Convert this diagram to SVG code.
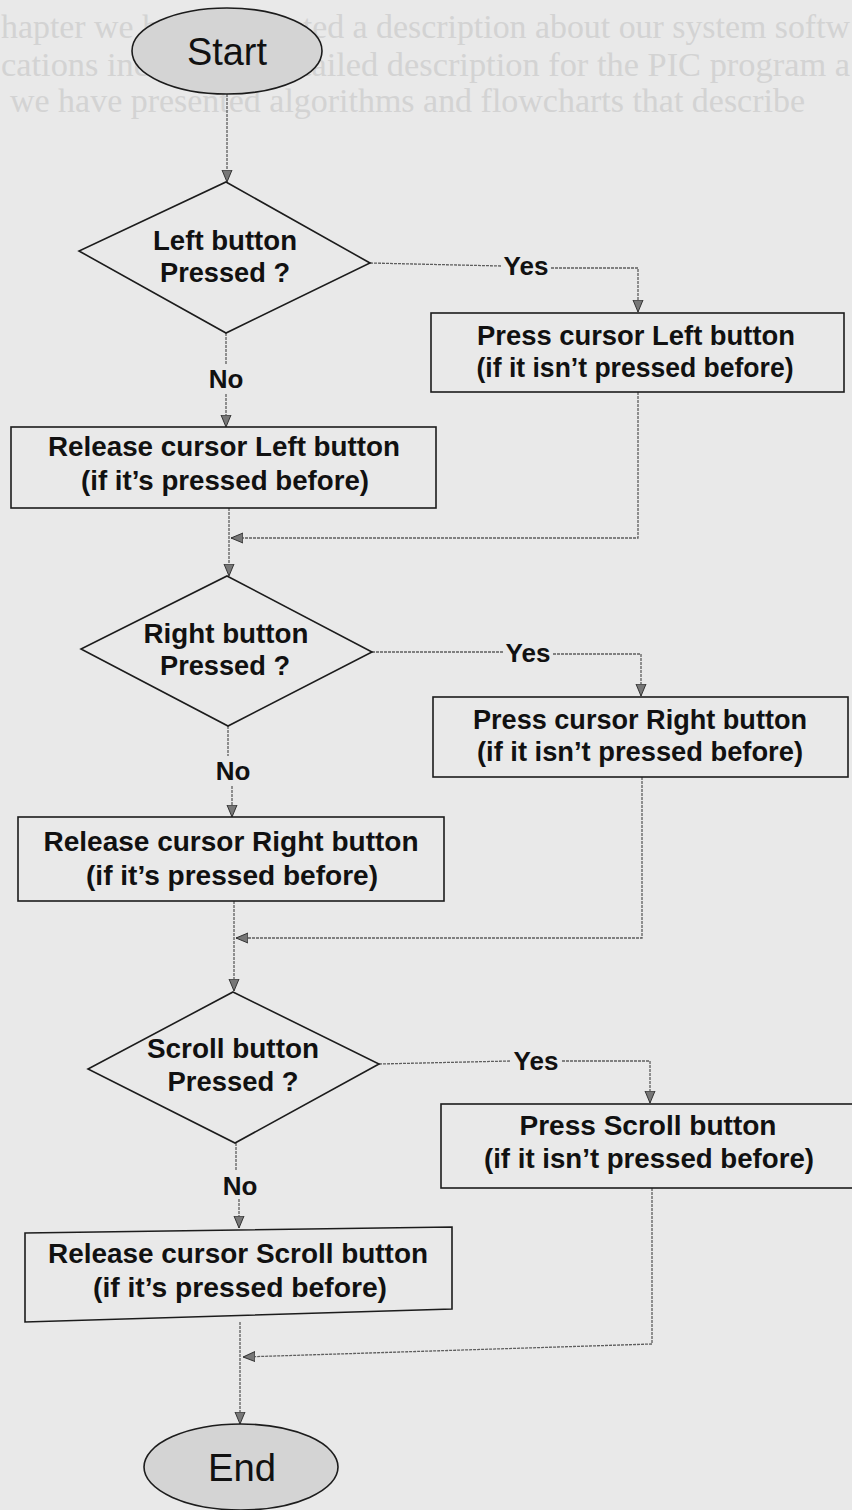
<svg xmlns="http://www.w3.org/2000/svg" width="852" height="1510" viewBox="0 0 852 1510">
<defs>
<marker id="arr" markerWidth="12" markerHeight="16" refX="12" refY="5" orient="auto" markerUnits="userSpaceOnUse" viewBox="0 0 12 10">
<path d="M0,0 L12,5 L0,10 Z" fill="#777" stroke="#333" stroke-width="1"/>
</marker>
<style>
.bg{fill:#e9e9e9}
.bleed{font-family:"Liberation Serif",serif;font-size:33px;fill:#d3d3d3}
.box{fill:none;stroke:#1c1c1c;stroke-width:1.6}
.term{fill:#d4d4d4;stroke:#1c1c1c;stroke-width:1.6}
.lbl{font-family:"Liberation Sans",Arial,sans-serif;font-weight:bold;font-size:27px;fill:#111;text-anchor:middle}
.yn{font-family:"Liberation Sans",Arial,sans-serif;font-weight:bold;font-size:26px;fill:#111;text-anchor:middle}
.tt{font-family:"Liberation Sans",Arial,sans-serif;font-size:38px;fill:#111;text-anchor:middle}
.con{fill:none;stroke:#5e5e5e;stroke-width:1.3;stroke-dasharray:3 1}
.ca{fill:none;stroke:#5e5e5e;stroke-width:1.3;stroke-dasharray:3 1;marker-end:url(#arr)}
</style>
</defs>
<rect class="bg" x="0" y="0" width="852" height="1510"/>
<g id="bleed-through">
<text class="bleed" x="1" y="38" textLength="849" lengthAdjust="spacingAndGlyphs">hapter we have presented a description about our system softw</text>
<text class="bleed" x="1" y="76" textLength="849" lengthAdjust="spacingAndGlyphs">cations including a detailed description for the PIC program a</text>
<text class="bleed" x="10" y="112" textLength="795" lengthAdjust="spacingAndGlyphs">we have presented algorithms and flowcharts that describe</text>
</g>
<g id="connectors">
<path class="ca" d="M227,94 V182"/>
<path class="con" d="M370,263 L501,266"/>
<path class="ca" d="M551,268 H638 V312"/>
<path class="con" d="M226,333 V364"/>
<path class="ca" d="M226,394 V427"/>
<path class="ca" d="M229,508 V576"/>
<path class="ca" d="M638,392 V538 H231"/>
<path class="con" d="M372,652 H503"/>
<path class="ca" d="M553,654 H641 V696"/>
<path class="con" d="M228,726 V756"/>
<path class="ca" d="M232,786 V817"/>
<path class="ca" d="M234,901 V991"/>
<path class="ca" d="M642,777 V938 H236"/>
<path class="con" d="M379,1064 L510,1061"/>
<path class="ca" d="M562,1061 H650 V1103"/>
<path class="con" d="M236,1143 V1170"/>
<path class="ca" d="M239,1199 V1228"/>
<path class="ca" d="M240,1322 V1424"/>
<path class="ca" d="M652,1188 V1344 L243,1357"/>
</g>
<g id="start">
<ellipse class="term" cx="227" cy="51" rx="95" ry="43"/>
<text class="tt" x="227" y="65" textLength="80" lengthAdjust="spacingAndGlyphs">Start</text>
</g>
<g id="q-left">
<polygon class="box" points="226,182 370,263 226,333 79,251"/>
<text class="lbl" x="225" y="250" textLength="144" lengthAdjust="spacingAndGlyphs">Left button</text>
<text class="lbl" x="225" y="282" textLength="130" lengthAdjust="spacingAndGlyphs">Pressed ?</text>
</g>
<g id="label-yes-1"><text class="yn" x="526" y="275">Yes</text></g>
<g id="label-no-1"><text class="yn" x="226" y="388">No</text></g>
<g id="press-left">
<rect class="box" x="431" y="313" width="413" height="79"/>
<text class="lbl" x="636" y="345" textLength="318" lengthAdjust="spacingAndGlyphs">Press cursor Left button</text>
<text class="lbl" x="635" y="377" textLength="317" lengthAdjust="spacingAndGlyphs">(if it isn’t pressed before)</text>
</g>
<g id="release-left">
<rect class="box" x="11" y="427" width="425" height="81"/>
<text class="lbl" x="224" y="456" textLength="352" lengthAdjust="spacingAndGlyphs">Release cursor Left button</text>
<text class="lbl" x="225" y="490" textLength="288" lengthAdjust="spacingAndGlyphs">(if it’s pressed before)</text>
</g>
<g id="q-right">
<polygon class="box" points="227,576 372,652 228,726 81,649"/>
<text class="lbl" x="226" y="643" textLength="165" lengthAdjust="spacingAndGlyphs">Right button</text>
<text class="lbl" x="225" y="675" textLength="130" lengthAdjust="spacingAndGlyphs">Pressed ?</text>
</g>
<g id="label-yes-2"><text class="yn" x="528" y="662">Yes</text></g>
<g id="label-no-2"><text class="yn" x="233" y="780">No</text></g>
<g id="press-right">
<rect class="box" x="433" y="697" width="415" height="80"/>
<text class="lbl" x="640" y="729" textLength="334" lengthAdjust="spacingAndGlyphs">Press cursor Right button</text>
<text class="lbl" x="640" y="761" textLength="326" lengthAdjust="spacingAndGlyphs">(if it isn’t pressed before)</text>
</g>
<g id="release-right">
<rect class="box" x="18" y="817" width="426" height="84"/>
<text class="lbl" x="231" y="851" textLength="375" lengthAdjust="spacingAndGlyphs">Release cursor Right button</text>
<text class="lbl" x="232" y="885" textLength="292" lengthAdjust="spacingAndGlyphs">(if it’s pressed before)</text>
</g>
<g id="q-scroll">
<polygon class="box" points="233,992 379,1064 235,1143 88,1069"/>
<text class="lbl" x="233" y="1058" textLength="172" lengthAdjust="spacingAndGlyphs">Scroll button</text>
<text class="lbl" x="233" y="1091" textLength="131" lengthAdjust="spacingAndGlyphs">Pressed ?</text>
</g>
<g id="label-yes-3"><text class="yn" x="536" y="1070">Yes</text></g>
<g id="label-no-3"><text class="yn" x="240" y="1195">No</text></g>
<g id="press-scroll">
<rect class="box" x="441" y="1104" width="418" height="84"/>
<text class="lbl" x="648" y="1135" textLength="257" lengthAdjust="spacingAndGlyphs">Press Scroll  button</text>
<text class="lbl" x="649" y="1168" textLength="330" lengthAdjust="spacingAndGlyphs">(if it isn’t pressed before)</text>
</g>
<g id="release-scroll">
<polygon class="box" points="25,1233 452,1227 452,1309 25,1322"/>
<text class="lbl" x="238" y="1263" textLength="380" lengthAdjust="spacingAndGlyphs">Release cursor Scroll button</text>
<text class="lbl" x="240" y="1297" textLength="294" lengthAdjust="spacingAndGlyphs">(if it’s pressed before)</text>
</g>
<g id="end">
<ellipse class="term" cx="241" cy="1467" rx="97" ry="43"/>
<text class="tt" x="242" y="1481" textLength="68" lengthAdjust="spacingAndGlyphs">End</text>
</g>
</svg>
